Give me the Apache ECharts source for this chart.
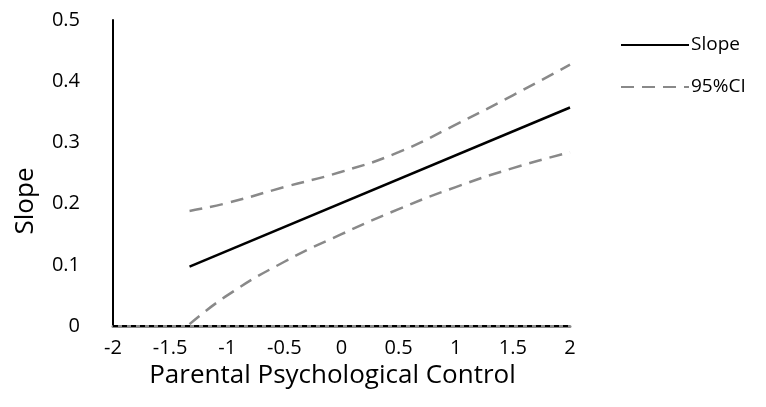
<!DOCTYPE html>
<html><head><meta charset="utf-8">
<script src="https://cdn.jsdelivr.net/npm/echarts@6/dist/echarts.min.js"></script>
<style>html,body{margin:0;padding:0;background:#fff}#c{width:766px;height:407px}</style>
</head><body><div id="c"></div>
<script>
const xTicks = [-2, -1.5, -1, -0.5, 0, 0.5, 1, 1.5, 2];
const slopeX = [-1.33, 2];
const slopeY = [0.097, 0.357];
const ciX = [-1.33, -1, -0.5, 0, 0.5, 1, 1.5, 2];
const ciUpper = [0.188, 0.201, 0.227, 0.252, 0.284, 0.329, 0.377, 0.427];
const ciLower = [0.003, 0.05, 0.105, 0.150, 0.191, 0.227, 0.258, 0.284];
const zeroX = [-2, 2];
const zeroY = [0, 0];

const pair = (xs, ys) => xs.map((x, i) => [x, ys[i]]);
const font = "'Open Sans', 'Noto Sans', sans-serif";
const chart = echarts.init(document.getElementById('c'));
chart.setOption({
  animation: false,
  grid: { left: 113, right: 196, top: 20, bottom: 81 },
  legend: {
    orient: 'vertical', left: 615, top: 30, itemWidth: 68, itemHeight: 14, itemGap: 22,
    data: ['Slope', '95%CI'],
    itemStyle: { opacity: 0 },
    textStyle: { fontFamily: font, fontSize: 19, lineHeight: 20, color: '#000', padding: [0, 0, 0, -3] }
  },
  xAxis: {
    type: 'value', min: -2, max: 2, interval: 0.5,
    name: 'Parental Psychological Control', nameLocation: 'middle', nameGap: 35,
    nameTextStyle: { fontFamily: font, fontSize: 26, color: '#000', padding: [0, 18, 0, 0] },
    axisLine: { show: true, onZero: false, lineStyle: { color: '#8a8a8a', width: 3 } },
    axisTick: { show: false }, splitLine: { show: false },
    axisLabel: { margin: 12, fontFamily: font, fontSize: 20, color: '#000',
      formatter: v => String(v) }
  },
  yAxis: {
    type: 'value', min: 0, max: 0.5, interval: 0.1,
    name: 'Slope', nameLocation: 'middle', nameGap: 74,
    nameTextStyle: { fontFamily: font, fontSize: 26, color: '#000', padding: [0, 56, 0, 0] },
    axisLine: { show: true, onZero: false, lineStyle: { color: '#000', width: 2 } },
    axisTick: { show: false }, splitLine: { show: false },
    axisLabel: { margin: 33, fontFamily: font, fontSize: 20, color: '#000',
      formatter: v => String(Math.round(v * 10) / 10) }
  },
  series: [
    { name: 'zero', type: 'line', data: pair(zeroX, zeroY), symbol: 'none', silent: true,
      lineStyle: { color: '#000', width: 2, type: [5, 4] }, z: 5 },
    { name: 'Slope', type: 'line', data: pair(slopeX, slopeY), symbol: 'none',
      lineStyle: { color: '#000', width: 2.5 }, itemStyle: { color: '#000' } },
    { name: '95%CI', type: 'line', data: pair(ciX, ciUpper), symbol: 'none', smooth: true,
      lineStyle: { color: '#898989', width: 2.5, type: [13, 8] }, itemStyle: { color: '#898989' } },
    { name: '95%CI', type: 'line', data: pair(ciX, ciLower), symbol: 'none', smooth: true,
      lineStyle: { color: '#898989', width: 2.5, type: [13, 8] }, itemStyle: { color: '#898989' } }
  ]
});
</script></body></html>
